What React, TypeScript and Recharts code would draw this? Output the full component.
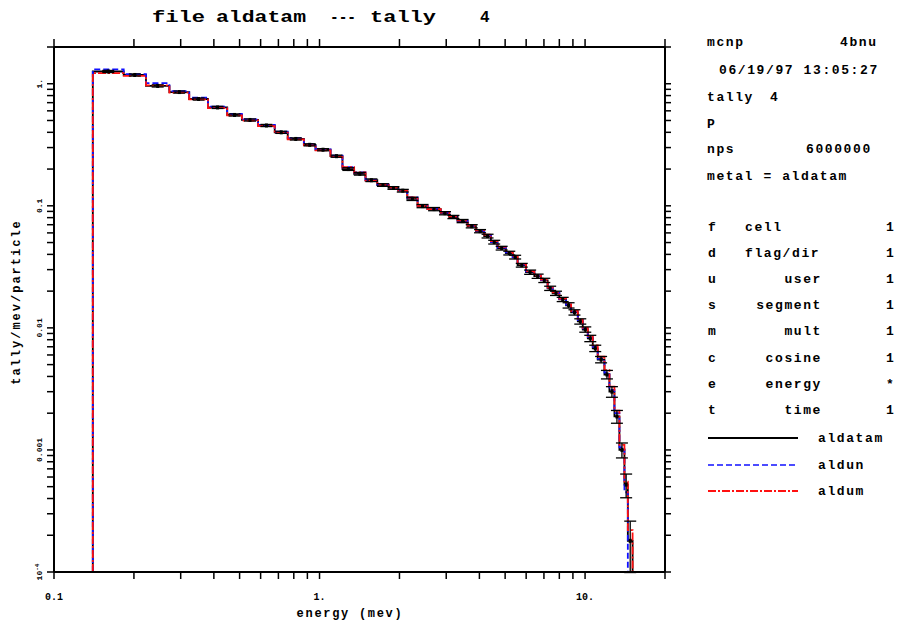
import React from 'react'
import { ComposedChart, Line, Scatter, XAxis, YAxis, ErrorBar } from 'recharts'

// energy bin edges (mev)
const binEdges = [
  0.14, 0.183, 0.222, 0.272, 0.323, 0.38, 0.449, 0.51, 0.587, 0.678, 0.759, 0.873, 0.966,
  1.1, 1.22, 1.35, 1.49, 1.65, 1.82, 1.98, 2.14, 2.34, 2.55, 2.86, 3.08, 3.31, 3.61, 3.88,
  4.17, 4.42, 4.68, 5.03, 5.34, 5.57, 5.99, 6.44, 6.82, 7.23, 7.55, 8.0, 8.48, 8.86, 9.39,
  9.8, 10.24, 10.69, 11.16, 11.83, 12.35, 12.9, 13.47, 14.07, 14.49, 15.1,
]

// tally/mev/particle per bin
const aldatam = [
  1.26, 1.18, 0.96, 0.855, 0.75, 0.64, 0.555, 0.505, 0.455, 0.4, 0.353, 0.316, 0.288,
  0.255, 0.2, 0.183, 0.162, 0.148, 0.14, 0.133, 0.114, 0.0995, 0.094, 0.087, 0.081, 0.075,
  0.068, 0.062, 0.0565, 0.0504, 0.045, 0.041, 0.038, 0.0326, 0.0286, 0.0265, 0.0245, 0.0211,
  0.0192, 0.0171, 0.0153, 0.0134, 0.0113, 0.0097, 0.0082, 0.0068, 0.0055, 0.00415, 0.003,
  0.00188, 0.001, 0.00052, 0.00018,
]
const aldun = [
  1.31, 1.2, 1.01, 0.87, 0.77, 0.65, 0.565, 0.51, 0.46, 0.405, 0.358, 0.32, 0.29,
  0.258, 0.207, 0.188, 0.163, 0.15, 0.141, 0.135, 0.117, 0.101, 0.095, 0.088, 0.082, 0.0755,
  0.0685, 0.0625, 0.0572, 0.0505, 0.0455, 0.0415, 0.0378, 0.033, 0.029, 0.0268, 0.0246, 0.0213,
  0.0194, 0.0172, 0.0155, 0.0136, 0.0116, 0.0099, 0.0084, 0.007, 0.0056, 0.0043, 0.0031,
  0.002, 0.00105, 0.00045, null,
]
const aldum = [
  1.22, 1.16, 0.97, 0.845, 0.745, 0.632, 0.55, 0.5, 0.45, 0.397, 0.35, 0.313, 0.285,
  0.252, 0.207, 0.188, 0.161, 0.149, 0.141, 0.133, 0.117, 0.1, 0.094, 0.088, 0.082, 0.076,
  0.069, 0.063, 0.058, 0.0515, 0.046, 0.042, 0.0385, 0.0335, 0.0292, 0.0268, 0.0248, 0.0214,
  0.0195, 0.0174, 0.0156, 0.0138, 0.0117, 0.01, 0.0086, 0.0072, 0.0058, 0.0045, 0.0033,
  0.0021, 0.0011, 0.00055, 0.00022,
]
// relative error of aldatam
const aldatamRelErr = [
  0.02, 0.02, 0.02, 0.02, 0.02, 0.02, 0.02, 0.02, 0.02, 0.02, 0.02, 0.02, 0.02, 0.02,
  0.025, 0.025, 0.025, 0.025, 0.025, 0.025, 0.03, 0.03, 0.03, 0.03, 0.03, 0.03, 0.03, 0.03,
  0.035, 0.035, 0.035, 0.035, 0.035, 0.035, 0.04, 0.04, 0.04, 0.04, 0.04, 0.04,
  0.05, 0.05, 0.05, 0.05, 0.06, 0.06, 0.06, 0.08, 0.1, 0.12, 0.14, 0.22, 0.45,
]

const xTicks = [0.1, 0.2, 0.3, 0.4, 0.5, 0.6, 0.7, 0.8, 0.9, 1, 2, 3, 4, 5, 6, 7, 8, 9, 10, 20]
const xLabelValues = [0.1, 1, 10]
const xLabelText = ['0.1', '1.', '10.']
const yTicks = [
  0.0001, 0.0002, 0.0003, 0.0004, 0.0005, 0.0006, 0.0007, 0.0008, 0.0009,
  0.001, 0.002, 0.003, 0.004, 0.005, 0.006, 0.007, 0.008, 0.009,
  0.01, 0.02, 0.03, 0.04, 0.05, 0.06, 0.07, 0.08, 0.09,
  0.1, 0.2, 0.3, 0.4, 0.5, 0.6, 0.7, 0.8, 0.9, 1, 2,
]
const yLabelValues = [1, 0.1, 0.01, 0.001, 0.0001]
const yLabelText = ['1.', '0.1', '0.01', '0.001', '10^-4']

const infoRows = [
  ['mcnp', '4bnu'],
  ['06/19/97 13:05:27'],
  ['tally', '4'],
  ['P'],
  ['nps', '6000000'],
  ['metal = aldatam'],
]
const tfcRows = [
  ['f', 'cell', '1'],
  ['d', 'flag/dir', '1'],
  ['u', 'user', '1'],
  ['s', 'segment', '1'],
  ['m', 'mult', '1'],
  ['c', 'cosine', '1'],
  ['e', 'energy', '*'],
  ['t', 'time', '1'],
]

const FLOOR = 0.0001
const MONO = '"Liberation Mono", "DejaVu Sans Mono", monospace'
const BLUE = '#1010ff'
const RED = '#ff1010'

function toSteps(vals: (number | null)[]) {
  const pts = [{ e: binEdges[0], v: FLOOR }]
  let last = 0
  vals.forEach((v, i) => {
    if (v != null) {
      pts.push({ e: binEdges[i], v })
      last = i
    }
  })
  pts.push({ e: binEdges[last + 1], v: FLOOR })
  return pts
}

const blackSteps = toSteps(aldatam)
const blueSteps = toSteps(aldun)
const redSteps = toSteps(aldum)
const errPts = aldatam.map((v, i) => ({
  e: Math.sqrt(binEdges[i] * binEdges[i + 1]),
  v,
  err: v * aldatamRelErr[i],
}))

const NoTick = () => <g />

const XTick = ({ x, y, payload }: any) => {
  const i = xLabelValues.indexOf(payload.value)
  if (i < 0) return <g />
  return (
    <text x={x} y={y} dy={11} textAnchor="middle" fontFamily={MONO} fontWeight="bold" fontSize={10} fill="#000">
      {xLabelText[i]}
    </text>
  )
}

const YTick = ({ x, y, payload }: any) => {
  const i = yLabelValues.indexOf(payload.value)
  if (i < 0) return <g />
  const [base, sup] = yLabelText[i].split('^')
  return (
    <text x={x} y={y} transform={`rotate(-90 ${x} ${y})`} textAnchor="middle"
      fontFamily={MONO} fontWeight="bold" fontSize={8} fill="#000">
      {base}
      {sup && <tspan dy={-3} fontSize={6}>{sup}</tspan>}
    </text>
  )
}

const Marker = ({ cx, cy }: any) => (
  <rect x={cx - 1.5} y={cy - 2} width={3} height={4} fill="#000" />
)

const axisLine = { stroke: '#000', strokeWidth: 2 }
const tickLine = { stroke: '#000', strokeWidth: 1.5 }

export default function App() {
  const txt = { fontFamily: MONO, fontWeight: 'bold' as const, fontSize: 13, letterSpacing: 1.6, fill: '#000' }
  return (
    <div style={{ position: 'absolute', left: 0, top: 0, width: 898, height: 624, background: '#fff' }}>
      <ComposedChart width={898} height={624} margin={{ top: 46, right: 232, bottom: 51, left: 53 }}>
        <XAxis xAxisId="b" type="number" dataKey="e" scale="log" domain={[0.1, 20]} allowDataOverflow
          ticks={xTicks} interval={0} height={1} tickSize={7} tickMargin={10}
          axisLine={axisLine} tickLine={tickLine} tick={<XTick />} />
        <XAxis xAxisId="t" orientation="top" type="number" dataKey="e" scale="log" domain={[0.1, 20]} allowDataOverflow
          ticks={xTicks} interval={0} height={1} tickSize={8}
          axisLine={axisLine} tickLine={tickLine} tick={<NoTick />} />
        <YAxis yAxisId="l" type="number" dataKey="v" scale="log" domain={[0.0001, 2]} allowDataOverflow
          ticks={yTicks} interval={0} width={1} tickSize={7} tickMargin={5}
          axisLine={axisLine} tickLine={tickLine} tick={<YTick />} />
        <YAxis yAxisId="r" orientation="right" type="number" dataKey="v" scale="log" domain={[0.0001, 2]} allowDataOverflow
          ticks={yTicks} interval={0} width={1} tickSize={6}
          axisLine={axisLine} tickLine={tickLine} tick={<NoTick />} />
        <Line xAxisId="b" yAxisId="l" data={blackSteps} dataKey="v" type="stepAfter" stroke="#000"
          strokeWidth={1.8} dot={false} isAnimationActive={false} />
        <Line xAxisId="b" yAxisId="l" data={blueSteps} dataKey="v" type="stepAfter" stroke={BLUE}
          strokeWidth={1.8} strokeDasharray="6 3" dot={false} isAnimationActive={false} />
        <Line xAxisId="b" yAxisId="l" data={redSteps} dataKey="v" type="stepAfter" stroke={RED}
          strokeWidth={1.8} strokeDasharray="8 2 2 2" dot={false} isAnimationActive={false} />
        <Scatter xAxisId="b" yAxisId="l" data={errPts} dataKey="v" shape={<Marker />} isAnimationActive={false}>
          <ErrorBar dataKey="err" direction="y" width={6} stroke="#000" strokeWidth={1.3} isAnimationActive={false} />
        </Scatter>
      </ComposedChart>

      <svg width={898} height={624} style={{ position: 'absolute', left: 0, top: 0, pointerEvents: 'none' }}>
        <g fontFamily={MONO} fontWeight="bold" fontSize={16} fill="#000">
          <text x={152} y={22} textLength={53} lengthAdjust="spacingAndGlyphs">file</text>
          <text x={216} y={22} textLength={90} lengthAdjust="spacingAndGlyphs">aldatam</text>
          <text x={330} y={22} textLength={26} lengthAdjust="spacingAndGlyphs">---</text>
          <text x={370} y={22} textLength={66} lengthAdjust="spacingAndGlyphs">tally</text>
          <text x={480} y={22}>4</text>
        </g>
        <text x={350} y={617} textAnchor="middle" {...txt} fontSize={12} letterSpacing={1.7}>energy (mev)</text>
        <text x={20} y={302} transform="rotate(-90 20 302)" textAnchor="middle" {...txt} fontSize={12} letterSpacing={2}>
          tally/mev/particle
        </text>

        <text x={707} y={46} {...txt}>{infoRows[0][0]}</text>
        <text x={840} y={46} {...txt}>{infoRows[0][1]}</text>
        <text x={719} y={74} {...txt}>{infoRows[1][0]}</text>
        <text x={707} y={101} {...txt}>{infoRows[2][0]}</text>
        <text x={770} y={101} {...txt}>{infoRows[2][1]}</text>
        <text x={707} y={128} {...txt}>{infoRows[3][0]}</text>
        <text x={707} y={153} {...txt}>{infoRows[4][0]}</text>
        <text x={806} y={153} {...txt}>{infoRows[4][1]}</text>
        <text x={707} y={180} {...txt}>{infoRows[5][0]}</text>

        {tfcRows.map((r, i) => {
          const y = 231 + i * 26.1
          const left = i < 2
          return (
            <g key={r[0]}>
              <text x={708} y={y} {...txt}>{r[0]}</text>
              <text x={left ? 745 : 822} y={y} textAnchor={left ? 'start' : 'end'} {...txt}>{r[1]}</text>
              <text x={886} y={y} {...txt}>{r[2]}</text>
            </g>
          )
        })}

        <line x1={708} x2={798} y1={438} y2={438} stroke="#000" strokeWidth={2} />
        <line x1={708} x2={798} y1={465} y2={465} stroke={BLUE} strokeWidth={1.6} strokeDasharray="6 3" />
        <line x1={708} x2={798} y1={491} y2={491} stroke={RED} strokeWidth={1.8} strokeDasharray="8 2 2 2" />
        <text x={818} y={442} {...txt}>aldatam</text>
        <text x={818} y={469} {...txt}>aldun</text>
        <text x={818} y={495} {...txt}>aldum</text>
      </svg>
    </div>
  )
}
